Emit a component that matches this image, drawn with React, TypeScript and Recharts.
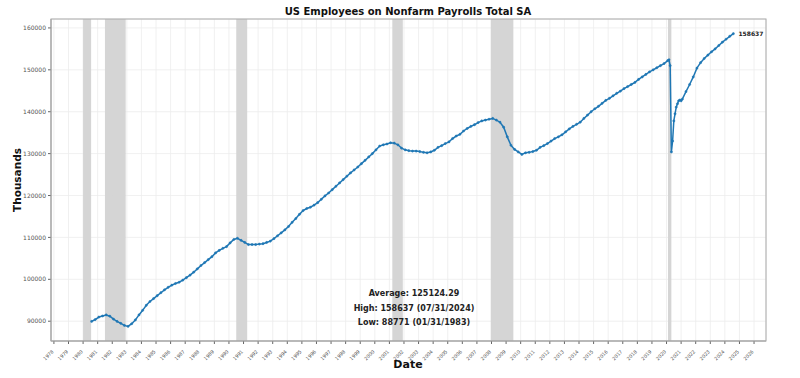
import React from "react";
import {
  LineChart,
  Line,
  XAxis,
  YAxis,
  CartesianGrid,
  ReferenceArea,
  ReferenceDot,
} from "recharts";

if (typeof document !== "undefined") document.body.style.margin = "0";

const BLUE = "#1f77b4";
const FONT = "DejaVu Sans, sans-serif";

// month-end observations, [year, month]
const dates: Array<[number, number]> = [
  [1980, 7], [1980, 10],
  [1981, 1], [1981, 4], [1981, 7], [1981, 10],
  [1982, 1], [1982, 4], [1982, 7], [1982, 10],
  [1983, 1], [1983, 4], [1983, 7], [1983, 10],
  [1984, 1], [1984, 4], [1984, 7], [1984, 10],
  [1985, 1], [1985, 4], [1985, 7], [1985, 10],
  [1986, 1], [1986, 4], [1986, 7], [1986, 10],
  [1987, 1], [1987, 4], [1987, 7], [1987, 10],
  [1988, 1], [1988, 4], [1988, 7], [1988, 10],
  [1989, 1], [1989, 4], [1989, 7], [1989, 10],
  [1990, 1], [1990, 4], [1990, 7], [1990, 10],
  [1991, 1], [1991, 4], [1991, 7], [1991, 10],
  [1992, 1], [1992, 4], [1992, 7], [1992, 10],
  [1993, 1], [1993, 4], [1993, 7], [1993, 10],
  [1994, 1], [1994, 4], [1994, 7], [1994, 10],
  [1995, 1], [1995, 4], [1995, 7], [1995, 10],
  [1996, 1], [1996, 4], [1996, 7], [1996, 10],
  [1997, 1], [1997, 4], [1997, 7], [1997, 10],
  [1998, 1], [1998, 4], [1998, 7], [1998, 10],
  [1999, 1], [1999, 4], [1999, 7], [1999, 10],
  [2000, 1], [2000, 4], [2000, 7], [2000, 10],
  [2001, 1], [2001, 4], [2001, 7], [2001, 10],
  [2002, 1], [2002, 4], [2002, 7], [2002, 10],
  [2003, 1], [2003, 4], [2003, 7], [2003, 10],
  [2004, 1], [2004, 4], [2004, 7], [2004, 10],
  [2005, 1], [2005, 4], [2005, 7], [2005, 10],
  [2006, 1], [2006, 4], [2006, 7], [2006, 10],
  [2007, 1], [2007, 4], [2007, 7], [2007, 10],
  [2008, 1], [2008, 4], [2008, 7], [2008, 10],
  [2009, 1], [2009, 4], [2009, 7], [2009, 10],
  [2010, 1], [2010, 4], [2010, 7], [2010, 10],
  [2011, 1], [2011, 4], [2011, 7], [2011, 10],
  [2012, 1], [2012, 4], [2012, 7], [2012, 10],
  [2013, 1], [2013, 4], [2013, 7], [2013, 10],
  [2014, 1], [2014, 4], [2014, 7], [2014, 10],
  [2015, 1], [2015, 4], [2015, 7], [2015, 10],
  [2016, 1], [2016, 4], [2016, 7], [2016, 10],
  [2017, 1], [2017, 4], [2017, 7], [2017, 10],
  [2018, 1], [2018, 4], [2018, 7], [2018, 10],
  [2019, 1], [2019, 4], [2019, 7], [2019, 10],
  [2020, 1], [2020, 2], [2020, 3], [2020, 4], [2020, 5], [2020, 6],
  [2020, 7], [2020, 8], [2020, 9], [2020, 10], [2020, 11], [2020, 12],
  [2021, 1], [2021, 4], [2021, 7], [2021, 10],
  [2022, 1], [2022, 4], [2022, 7], [2022, 10],
  [2023, 1], [2023, 4], [2023, 7], [2023, 10],
  [2024, 1], [2024, 4], [2024, 7],
];

const payrolls = [
  89950, 90400,
  91000, 91250, 91500, 91200,
  90500, 89950, 89500, 89000,
  88771, 89400, 90300, 91500,
  92600, 93800, 94700, 95400,
  96100, 96800, 97500, 98100,
  98600, 99000, 99300, 99800,
  100400, 101000, 101700, 102500,
  103300, 104000, 104700, 105400,
  106300, 106900, 107400, 107800,
  108700, 109500, 109800, 109300,
  108800, 108300, 108300, 108300,
  108400, 108500, 108800, 109100,
  109700, 110400, 111100, 111800,
  112600, 113600, 114500, 115500,
  116400, 116900, 117200, 117700,
  118300, 119100, 119900, 120600,
  121400, 122200, 123000, 123800,
  124600, 125400, 126100, 126800,
  127600, 128400, 129200, 130000,
  130900, 131800, 132100, 132300,
  132600, 132500, 132100, 131300,
  130900, 130700, 130600, 130600,
  130500, 130300, 130200, 130400,
  130800, 131500, 131900, 132400,
  132800, 133600, 134200, 134600,
  135400, 136000, 136500, 136900,
  137400, 137800, 138000, 138200,
  138400, 138000, 137500, 136300,
  134000, 132000, 131000, 130400,
  129800, 130200, 130300, 130500,
  130800, 131500, 131900, 132400,
  133000, 133600, 134000, 134500,
  135200, 135900, 136500, 137000,
  137500, 138400, 139200, 140000,
  140700, 141300, 142000, 142700,
  143200, 143800, 144400, 144900,
  145500, 146000, 146500, 147000,
  147700, 148300, 148900, 149500,
  150000, 150500, 151000, 151500,
  152200, 152400, 151000, 130400, 133000, 137800,
  139500, 141100, 141900, 142600, 142800, 142600,
  143000, 144800, 146500, 148300,
  150400, 151700, 152700, 153500,
  154300, 155000, 155800, 156600,
  157300, 158000, 158637,
];

const recessions: Array<[number, number]> = [
  [1980.0, 1980.55],
  [1981.5, 1982.92],
  [1990.5, 1991.25],
  [2001.2, 2001.92],
  [2007.95, 2009.5],
  [2020.1, 2020.33],
];

const yearTicks = Array.from({ length: 49 }, (_, i) => 1978 + i);
const yTicks = [90000, 100000, 110000, 120000, 130000, 140000, 150000, 160000];

const stats = [
  "Average: 125124.29",
  "High: 158637 (07/31/2024)",
  "Low: 88771 (01/31/1983)",
];

const data = dates.map(([y, m], i) => ({ t: y + m / 12, value: payrolls[i] }));
const last = data[data.length - 1];

function YearTick({ x, y, payload }: any) {
  return (
    <text
      x={x}
      y={y}
      dy={6}
      transform={`rotate(-45 ${x} ${y + 6})`}
      textAnchor="end"
      fontSize={4.8}
      fill="#555"
      fontFamily={FONT}
    >
      {payload.value}
    </text>
  );
}

export default function App() {
  return (
    <div style={{ position: "relative", width: 800, height: 378, background: "#fff" }}>
      <LineChart
        width={800}
        height={378}
        data={data}
        margin={{ top: 19, right: 34, left: 0, bottom: 0 }}
      >
        <CartesianGrid stroke="#ececec" strokeWidth={0.8} />
        {recessions.map(([a, b], i) => (
          <ReferenceArea key={i} x1={a} x2={b} fill="#d3d3d3" fillOpacity={0.95} stroke="none" />
        ))}
        <XAxis
          type="number"
          dataKey="t"
          domain={[1977.8, 2026.82]}
          ticks={yearTicks}
          interval={0}
          height={37}
          tick={<YearTick />}
          tickSize={3}
          stroke="#999"
          tickLine={{ stroke: "#666" }}
          allowDataOverflow
        />
        <YAxis
          type="number"
          domain={[85278, 162130]}
          ticks={yTicks}
          interval={0}
          width={51}
          tickSize={3}
          stroke="#999"
          tickLine={{ stroke: "#666" }}
          tick={{ fontSize: 6, fill: "#555", fontFamily: FONT }}
          allowDataOverflow
        />
        <Line
          type="linear"
          dataKey="value"
          stroke={BLUE}
          strokeWidth={1.5}
          dot={{ r: 1.1, fill: BLUE, stroke: BLUE, strokeWidth: 0.5 }}
          isAnimationActive={false}
        />
        <ReferenceDot
          x={last.t}
          y={last.value}
          r={0}
          label={{
            value: String(last.value),
            position: "right",
            fontSize: 6,
            fontWeight: "bold",
            fill: "#222",
            fontFamily: FONT,
          }}
        />
      </LineChart>
      <svg
        width={800}
        height={378}
        style={{ position: "absolute", left: 0, top: 0, pointerEvents: "none" }}
      >
        <rect x={51} y={19} width={715} height={322} fill="none" stroke="#aaa" strokeWidth={1} />
        <text x={408} y={15} textAnchor="middle" fontSize={10} fontWeight="bold" fontFamily={FONT} fill="#111">
          US Employees on Nonfarm Payrolls Total SA
        </text>
        <text
          x={21}
          y={180}
          transform="rotate(-90 21 180)"
          textAnchor="middle"
          fontSize={10.5}
          fontWeight="bold"
          fontFamily={FONT}
          fill="#111"
        >
          Thousands
        </text>
        <text x={408} y={368} textAnchor="middle" fontSize={11} fontWeight="bold" fontFamily={FONT} fill="#111">
          Date
        </text>
        {stats.map((s, i) => (
          <text
            key={s}
            x={414}
            y={296 + i * 14.5}
            textAnchor="middle"
            fontSize={8}
            fontWeight="bold"
            fontFamily={FONT}
            fill="#222"
          >
            {s}
          </text>
        ))}
      </svg>
    </div>
  );
}
